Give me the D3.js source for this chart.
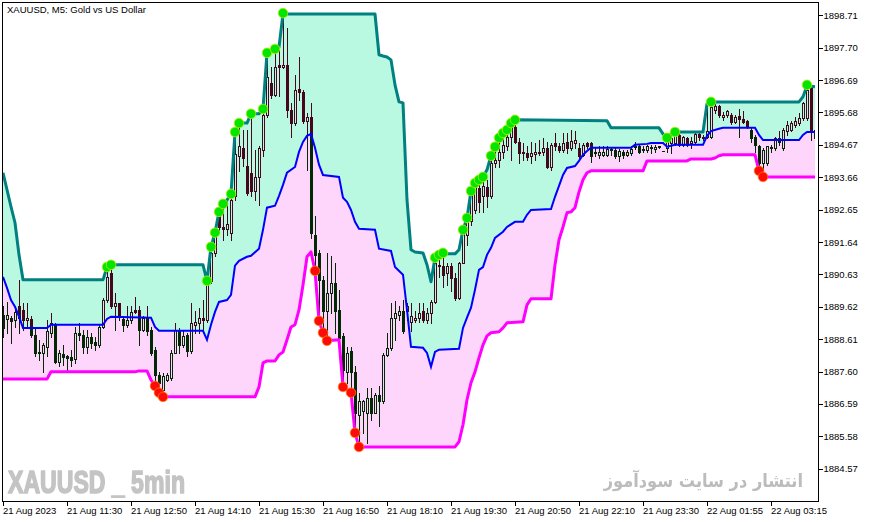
<!DOCTYPE html>
<html><head><meta charset="utf-8">
<script src="https://cdn.jsdelivr.net/npm/d3@7"></script>
<style>html,body{margin:0;padding:0;background:#fff;}svg{display:block;}</style>
</head><body>
<svg id="chart" width="871" height="522"></svg>
<script>
// ---------- data ----------
const titleText = "XAUUSD, M5:  Gold vs US Dollar";
const timeTickBars = [0,16,32,48,64,80,96,112,128,144,160,176,192];
const timeLabels = ["21 Aug 2023","21 Aug 11:30","21 Aug 12:50","21 Aug 14:10","21 Aug 15:30","21 Aug 16:50","21 Aug 18:10","21 Aug 19:30","21 Aug 20:50","21 Aug 22:10","21 Aug 23:30","22 Aug 01:55","22 Aug 03:15"];
const priceTicks = [1898.71,1897.70,1896.69,1895.68,1894.67,1893.66,1892.65,1891.64,1890.63,1889.62,1888.61,1887.60,1886.59,1885.58,1884.57];

const open = [1889.37,1889.23,1889.26,1889.21,1889.63,1889.52,1889.21,1889.23,1888.75,1888.17,1888.17,1888.38,1888.80,1889.06,1887.91,1888.15,1888.07,1888.05,1887.99,1888.80,
1888.75,1888.38,1888.69,1888.51,1888.43,1889.00,1889.84,1890.67,1889.63,1889.73,1889.23,1889.06,1889.21,1889.52,1889.52,1888.90,1889.26,1888.90,1888.28,1887.50,
1887.03,1887.35,1887.40,1888.18,1888.90,1888.44,1888.75,1888.23,1889.06,1889.11,1889.27,1889.22,1890.41,1891.29,1892.49,1892.12,1892.04,1891.92,1893.06,1894.31,
1894.57,1894.00,1893.79,1893.22,1893.68,1894.51,1895.60,1896.59,1896.23,1897.16,1897.11,1897.16,1895.76,1895.35,1896.41,1896.33,1895.40,1895.55,1891.87,1891.29,
1890.46,1889.48,1890.05,1890.36,1889.53,1888.70,1887.60,1888.23,1887.60,1886.26,1886.36,1886.31,1886.78,1886.31,1886.88,1886.67,1888.12,1888.33,1889.27,1889.37,
1889.48,1889.48,1889.16,1889.22,1889.27,1889.48,1889.21,1889.42,1889.78,1890.88,1890.90,1890.67,1890.90,1890.51,1889.89,1891.00,1891.86,1892.28,1892.64,1893.32,
1893.06,1893.37,1893.06,1894.10,1894.20,1894.46,1894.62,1894.93,1895.24,1894.77,1894.41,1894.41,1894.32,1894.39,1894.41,1894.46,1894.56,1893.99,1894.72,1894.62,
1894.51,1894.77,1894.57,1894.72,1894.57,1894.36,1894.72,1894.74,1894.41,1894.36,1894.36,1894.36,1894.51,1894.51,1894.31,1894.46,1894.36,1894.41,1894.60,1894.64,
1894.51,1894.51,1894.56,1894.53,1894.60,1894.48,1894.57,1894.72,1894.72,1894.98,1894.67,1894.88,1894.74,1894.77,1895.01,1894.88,1894.93,1894.93,1895.76,1895.89,
1895.53,1895.60,1895.60,1895.37,1895.57,1895.47,1895.40,1895.14,1894.93,1894.64,1894.10,1894.10,1894.57,1894.57,1894.88,1894.57,1895.09,1895.14,1895.29,1895.35,
1895.50,1895.50,1896.44,1895.14];
const high = [1889.63,1889.78,1889.32,1889.63,1890.46,1889.73,1889.73,1889.32,1889.00,1888.59,1888.49,1889.21,1889.42,1889.11,1888.28,1888.43,1888.12,1888.28,1889.00,1889.11,
1888.90,1888.90,1888.80,1888.69,1889.06,1889.89,1890.86,1890.93,1890.04,1889.73,1889.32,1889.63,1889.63,1889.94,1889.63,1889.32,1889.63,1889.00,1888.38,1887.60,
1887.55,1887.55,1888.28,1889.11,1888.96,1888.90,1888.80,1889.74,1889.48,1889.58,1889.84,1890.43,1891.49,1891.93,1892.58,1892.83,1892.95,1893.14,1895.07,1895.35,
1895.14,1895.14,1895.64,1894.51,1894.62,1895.79,1897.54,1897.11,1897.66,1897.63,1898.78,1898.31,1895.97,1896.85,1897.42,1896.38,1895.66,1895.97,1892.44,1891.40,
1890.57,1891.29,1891.19,1890.98,1890.15,1888.80,1888.38,1888.38,1887.76,1886.93,1886.72,1887.09,1887.09,1886.93,1887.14,1888.18,1888.80,1889.74,1889.79,1889.63,
1889.84,1889.74,1889.74,1889.48,1889.74,1889.74,1889.58,1889.84,1891.15,1891.24,1891.30,1890.98,1890.98,1890.67,1891.02,1892.12,1892.49,1893.26,1893.48,1893.58,
1893.67,1893.58,1894.33,1894.62,1894.89,1895.04,1895.14,1895.36,1895.45,1894.88,1894.72,1894.62,1894.77,1894.72,1894.82,1894.88,1894.77,1894.72,1895.03,1894.72,
1895.03,1895.03,1895.14,1895.09,1894.72,1894.72,1894.77,1894.77,1894.56,1894.62,1894.62,1894.62,1894.60,1894.57,1894.53,1894.51,1894.51,1894.62,1894.77,1894.67,
1894.62,1894.67,1894.67,1894.67,1894.64,1894.49,1894.93,1895.03,1895.07,1895.03,1894.95,1894.93,1894.93,1895.03,1895.05,1894.98,1895.97,1896.02,1895.97,1895.92,
1895.68,1895.76,1895.66,1895.60,1895.78,1895.71,1895.45,1895.24,1894.98,1894.67,1894.57,1894.64,1894.67,1894.93,1895.09,1895.19,1895.40,1895.40,1895.55,1895.66,
1896.02,1896.54,1896.49,1895.45];
const low = [1888.69,1888.80,1888.49,1889.00,1888.80,1888.90,1889.00,1888.69,1888.07,1887.97,1887.60,1888.07,1888.69,1887.86,1887.76,1887.81,1887.65,1887.76,1887.86,1888.59,
1888.17,1888.17,1888.33,1888.28,1888.38,1888.95,1889.78,1889.58,1888.90,1889.21,1888.85,1889.00,1889.11,1889.42,1888.43,1888.85,1888.75,1888.12,1887.15,1886.94,
1886.81,1887.29,1887.35,1888.18,1888.18,1888.38,1888.07,1888.18,1888.80,1888.80,1888.90,1889.16,1890.36,1891.19,1891.92,1891.71,1891.87,1891.71,1892.96,1893.84,
1894.00,1893.11,1893.06,1892.96,1892.80,1894.31,1895.55,1896.12,1896.18,1896.18,1897.06,1895.55,1894.93,1895.29,1896.07,1895.35,1893.89,1891.76,1890.74,1889.18,
1888.81,1888.56,1889.43,1888.80,1888.54,1887.12,1887.24,1886.94,1885.69,1885.25,1885.68,1885.37,1886.10,1886.31,1885.89,1886.62,1888.07,1888.28,1888.59,1889.22,
1888.80,1889.22,1888.85,1889.16,1889.16,1889.16,1889.11,1889.11,1889.73,1890.56,1890.25,1890.30,1890.10,1889.84,1889.86,1890.98,1891.55,1892.17,1892.54,1892.59,
1892.59,1892.74,1893.00,1893.99,1893.99,1894.25,1894.51,1894.20,1894.72,1894.10,1894.20,1894.20,1894.10,1894.20,1894.36,1894.36,1893.94,1893.89,1894.51,1894.46,
1894.46,1894.41,1894.51,1894.57,1894.25,1894.31,1894.57,1894.15,1894.31,1894.25,1894.31,1894.31,1894.36,1894.25,1894.18,1894.25,1894.31,1894.36,1894.53,1894.43,
1894.46,1894.46,1894.41,1894.46,1894.57,1894.47,1894.46,1894.41,1894.67,1894.62,1894.62,1894.62,1894.57,1894.74,1894.83,1894.83,1894.88,1894.88,1895.66,1895.55,
1895.45,1895.55,1895.32,1895.35,1894.93,1895.35,1895.19,1894.77,1894.46,1893.86,1893.67,1894.05,1894.46,1894.51,1894.67,1894.51,1894.98,1895.09,1895.24,1895.29,
1895.45,1895.45,1894.83,1894.83];
const close = [1888.95,1889.37,1889.18,1889.47,1889.26,1889.21,1889.26,1888.75,1888.17,1888.22,1888.43,1888.85,1889.11,1887.91,1888.17,1888.05,1888.02,1887.97,1888.80,1888.75,
1888.38,1888.69,1888.49,1888.43,1889.00,1889.84,1890.56,1889.63,1889.73,1889.32,1889.06,1889.21,1889.47,1889.47,1888.90,1889.26,1888.85,1888.18,1887.50,1887.24,
1887.45,1887.50,1888.18,1888.90,1888.44,1888.70,1888.23,1889.11,1889.16,1889.27,1889.20,1890.41,1891.29,1891.87,1892.12,1892.04,1892.20,1892.96,1894.40,1894.62,
1894.26,1893.18,1893.22,1893.68,1894.57,1895.60,1896.80,1896.23,1897.11,1897.11,1897.16,1895.76,1895.35,1896.38,1896.33,1895.40,1895.55,1891.92,1891.24,1890.46,
1889.48,1890.05,1890.36,1889.48,1888.65,1887.66,1888.18,1887.60,1886.31,1886.67,1886.67,1886.78,1886.31,1886.88,1886.67,1888.12,1888.33,1889.27,1889.43,1889.48,
1888.85,1889.63,1889.32,1889.27,1889.43,1889.22,1889.42,1889.78,1890.98,1890.93,1890.62,1890.90,1890.51,1889.89,1891.00,1891.91,1892.28,1893.11,1893.37,1892.90,
1893.39,1893.06,1894.10,1894.20,1894.46,1894.67,1894.93,1895.24,1894.77,1894.41,1894.46,1894.30,1894.43,1894.46,1894.46,1894.56,1893.99,1894.67,1894.62,1894.51,
1894.72,1894.57,1894.80,1894.83,1894.31,1894.67,1894.62,1894.31,1894.46,1894.46,1894.46,1894.53,1894.53,1894.31,1894.48,1894.36,1894.46,1894.53,1894.64,1894.46,
1894.53,1894.62,1894.60,1894.60,1894.62,1894.49,1894.88,1894.88,1894.98,1894.67,1894.93,1894.67,1894.80,1895.01,1894.93,1894.93,1895.09,1895.86,1895.89,1895.60,
1895.60,1895.71,1895.37,1895.55,1895.47,1895.37,1895.24,1894.88,1894.67,1894.10,1894.51,1894.62,1894.60,1894.88,1894.77,1895.14,1895.29,1895.35,1895.40,1895.50,
1895.97,1896.38,1895.09,1894.88];

// channel lines (bar index, price) at their break points
const upperBar = [0,1,2,3,4,5,25,26,27,50,51,52,53,54,55,56,57,58,59,61,62,64,65,66,67,68,69,70,93,94,95,96,97,98,99,100,101,102,103,105,106,107,108,109,110,113,114,115,116,117,118,119,120,121,122,123,124,125,126,127,128,151,152,164,165,166,167,168,175,176,177,199,200,201,203];
const upperVal = [1893.80,1893.27,1892.74,1892.24,1891.24,1890.46,1890.46,1890.86,1890.93,1890.93,1890.43,1891.49,1891.93,1892.58,1892.83,1892.95,1893.14,1895.07,1895.35,1895.35,1895.64,1895.64,1895.79,1897.54,1897.63,1897.66,1897.72,1898.75,1898.75,1897.48,1897.44,1897.41,1897.32,1896.54,1896.01,1895.98,1892.95,1891.40,1891.33,1891.30,1890.93,1890.40,1891.15,1891.24,1891.27,1891.27,1891.40,1892.02,1892.39,1893.23,1893.48,1893.58,1893.67,1893.89,1894.33,1894.61,1894.89,1895.04,1895.14,1895.35,1895.45,1895.42,1895.20,1895.20,1895.01,1894.92,1895.01,1895.07,1895.07,1895.95,1896.01,1896.01,1896.17,1896.51,1896.48];
const midBar = [0,1,2,3,4,5,11,12,25,26,27,37,38,39,50,51,52,53,54,56,57,58,59,61,62,64,65,66,68,69,70,71,73,74,75,76,77,78,79,80,84,85,86,87,88,89,93,94,97,98,100,101,102,105,106,107,108,109,114,115,116,117,118,119,120,121,122,123,125,126,128,130,131,132,137,138,139,140,141,143,144,145,146,147,157,158,161,162,165,166,167,168,175,176,177,179,180,188,189,190,199,200,201,203];
const midVal = [1890.55,1890.21,1889.83,1889.62,1889.31,1888.96,1888.96,1889.06,1889.06,1889.24,1889.31,1889.28,1888.99,1888.87,1888.87,1888.59,1889.06,1889.46,1889.77,1889.83,1889.99,1890.90,1891.05,1891.18,1891.21,1891.43,1892.02,1892.71,1892.77,1893.08,1893.42,1893.80,1893.98,1894.45,1894.76,1894.95,1895.01,1894.58,1894.05,1893.73,1893.67,1893.02,1892.89,1892.64,1892.27,1892.05,1892.02,1891.43,1891.36,1890.86,1890.62,1889.52,1888.37,1888.34,1888.18,1887.75,1888.21,1888.28,1888.31,1888.96,1889.28,1889.59,1890.15,1890.77,1890.86,1891.24,1891.46,1891.77,1891.96,1892.11,1892.27,1892.27,1892.49,1892.64,1892.67,1893.05,1893.39,1893.73,1893.95,1894.01,1894.17,1894.36,1894.48,1894.58,1894.58,1894.67,1894.70,1894.73,1894.73,1894.61,1894.64,1894.67,1894.67,1894.95,1895.10,1895.17,1895.20,1895.20,1894.98,1894.82,1894.82,1894.98,1895.07,1895.07];
const lowerBar = [0,11,12,33,34,36,37,38,39,40,63,64,65,66,68,69,70,71,72,73,74,75,76,77,78,79,80,81,84,85,86,87,88,89,113,114,115,116,117,118,119,120,121,122,124,125,126,130,131,132,137,138,139,140,141,142,143,144,145,146,147,160,161,171,172,177,178,179,180,188,189,190,203];
const lowerVal = [1887.37,1887.37,1887.59,1887.59,1887.62,1887.62,1887.34,1887.15,1886.94,1886.81,1886.81,1887.12,1887.87,1887.93,1887.93,1888.12,1888.21,1888.59,1888.99,1889.06,1889.52,1890.30,1891.18,1891.33,1890.74,1889.18,1888.81,1888.56,1888.59,1887.12,1887.03,1886.94,1885.69,1885.25,1885.25,1885.41,1885.94,1886.72,1887.25,1887.59,1888.03,1888.43,1888.71,1888.81,1888.84,1888.96,1889.12,1889.15,1889.68,1889.87,1889.87,1890.93,1891.71,1892.11,1892.55,1892.58,1892.71,1893.20,1893.58,1893.80,1893.86,1893.86,1894.17,1894.17,1894.23,1894.23,1894.26,1894.33,1894.36,1894.36,1893.86,1893.67,1893.67];

// breakout markers
const upDotBar = [26,27,51,52,53,54,55,57,58,59,62,65,66,68,70,108,109,110,115,116,117,118,119,120,122,123,124,125,126,127,128,166,168,177,201];
const upDotVal = [1890.86,1890.93,1890.43,1891.49,1891.93,1892.58,1892.83,1893.14,1895.07,1895.35,1895.64,1895.79,1897.54,1897.66,1898.78,1891.15,1891.24,1891.30,1892.02,1892.39,1893.23,1893.48,1893.58,1893.67,1894.33,1894.61,1894.89,1895.04,1895.14,1895.35,1895.45,1894.89,1895.07,1896.01,1896.54];
const downDotBar = [38,39,40,78,79,80,81,85,87,88,89,189,190];
const downDotVal = [1887.15,1886.94,1886.81,1890.74,1889.18,1888.81,1888.56,1887.12,1886.94,1885.69,1885.25,1893.86,1893.67];

// ---------- drawing ----------
const svg = d3.select("#chart");
const PL = 2, PR = 818, PT = 2, PB = 501;
const x = d3.scaleLinear().domain([0, 203]).range([3, 815]);
const y = d3.scaleLinear().domain([1884.57, 1898.71]).range([468.7, 15.3]);

svg.append("rect").attr("width", 871).attr("height", 522).attr("fill", "#fff");
svg.append("defs").append("clipPath").attr("id", "plot")
  .append("rect").attr("x", PL + 1).attr("y", PT + 1).attr("width", PR - PL - 1).attr("height", PB - PT - 1);

const plot = svg.append("g").attr("clip-path", "url(#plot)");

// watermarks
plot.append("text").attr("x", 8).attr("y", 492.5)
  .attr("font-family", "'Liberation Sans Narrow', 'Liberation Sans', sans-serif")
  .attr("font-weight", "bold").attr("font-size", 31).attr("fill", "#c4c4c4")
  .attr("stroke", "#c4c4c4").attr("stroke-width", 1.6).attr("stroke-linejoin", "round")
  .attr("textLength", 177).attr("lengthAdjust", "spacingAndGlyphs")
  .text("XAUUSD _ 5min");
plot.append("text").attr("x", 803).attr("y", 487)
  .attr("text-anchor", "end")
  .attr("font-family", "'DejaVu Sans Condensed', 'DejaVu Sans', sans-serif")
  .attr("font-weight", "bold").attr("font-size", 18).attr("fill", "#bcbcbc")
  .text("انتشار در سایت سودآموز");

const pts = (bars, vals) => bars.map((b, k) => [x(b), y(vals[k])]);
const upperPts = pts(upperBar, upperVal);
const midPts = pts(midBar, midVal);
const lowerPts = pts(lowerBar, lowerVal);
const line = d3.line();

plot.append("path").attr("d", line(upperPts.concat(midPts.slice().reverse())) + "Z").attr("fill", "#b9f9e1");
plot.append("path").attr("d", line(midPts.concat(lowerPts.slice().reverse())) + "Z").attr("fill", "#ffd6fb");

// candles (inverted against background, like the terminal)
const cg = plot.append("g").style("mix-blend-mode", "difference").attr("shape-rendering", "crispEdges");
const idx = d3.range(open.length);
idx.forEach(i => {
  const cx = Math.round(x(i));
  const o = open[i], c = close[i];
  const top = Math.round(y(Math.max(o, c)));
  let bot = Math.round(y(Math.min(o, c)));
  const yh = Math.round(y(high[i])), yl = Math.round(y(low[i]));
  const bull = c > o;
  if (yh < top) cg.append("rect").attr("x", cx).attr("y", yh).attr("width", 1).attr("height", top - yh).attr("fill", "#fff");
  if (yl > bot) cg.append("rect").attr("x", cx).attr("y", bot + 1).attr("width", 1).attr("height", yl - bot).attr("fill", "#fff");
  if (bull && bot - top >= 2) {
    cg.append("rect").attr("x", cx - 1).attr("y", top).attr("width", 3).attr("height", 1).attr("fill", "#fff");
    cg.append("rect").attr("x", cx - 1).attr("y", bot).attr("width", 3).attr("height", 1).attr("fill", "#fff");
    cg.append("rect").attr("x", cx - 1).attr("y", top).attr("width", 1).attr("height", bot - top + 1).attr("fill", "#fff");
    cg.append("rect").attr("x", cx + 1).attr("y", top).attr("width", 1).attr("height", bot - top + 1).attr("fill", "#fff");
  } else {
    cg.append("rect").attr("x", cx - 1).attr("y", top).attr("width", 3).attr("height", Math.max(1, bot - top + 1)).attr("fill", "#fff");
  }
});

// channel lines
plot.append("path").attr("d", line(midPts)).attr("fill", "none").attr("stroke", "#0000ff").attr("stroke-width", 2);
plot.append("path").attr("d", line(upperPts)).attr("fill", "none").attr("stroke", "#008080").attr("stroke-width", 3).attr("stroke-linejoin", "round");
plot.append("path").attr("d", line(lowerPts)).attr("fill", "none").attr("stroke", "#ff00ff").attr("stroke-width", 3).attr("stroke-linejoin", "round");

// dots
plot.selectAll(".up").data(upDotBar).join("circle")
  .attr("cx", d => x(d)).attr("cy", (d, k) => y(upDotVal[k])).attr("r", 4.8)
  .attr("fill", "#00e600").attr("stroke", "#b8ee00").attr("stroke-width", 0.8);
plot.selectAll(".dn").data(downDotBar).join("circle")
  .attr("cx", d => x(d)).attr("cy", (d, k) => y(downDotVal[k])).attr("r", 4.8)
  .attr("fill", "#ff0a0a").attr("stroke", "#ff7a00").attr("stroke-width", 0.8);

// frame
svg.append("rect").attr("x", PL + 0.5).attr("y", PT + 0.5).attr("width", PR - PL).attr("height", PB - PT)
  .attr("fill", "none").attr("stroke", "#000").attr("stroke-width", 1).attr("shape-rendering", "crispEdges");

// axes
const fontAxis = "'Liberation Sans', Arial, sans-serif";
const xAxis = d3.axisBottom(x).tickValues(timeTickBars).tickFormat((d, k) => timeLabels[k]).tickSize(4).tickPadding(2);
const gx = svg.append("g").attr("transform", `translate(-0.5,${PB + 0.5})`).call(xAxis);
gx.select(".domain").remove();
gx.selectAll("line").attr("shape-rendering", "crispEdges").attr("stroke", "#000");
gx.selectAll("text").attr("text-anchor", "start").attr("font-family", fontAxis).attr("font-size", 9.5).attr("fill", "#000").attr("dx", 0).attr("dy", "0.75em").attr("y", 5);

const yAxis = d3.axisRight(y).tickValues(priceTicks).tickFormat(d3.format(".2f")).tickSize(4).tickPadding(1);
const gy = svg.append("g").attr("transform", `translate(${PR + 0.5},0)`).call(yAxis);
gy.select(".domain").remove();
gy.selectAll("line").attr("shape-rendering", "crispEdges").attr("stroke", "#000");
gy.selectAll("text").attr("font-family", fontAxis).attr("font-size", 9.5).attr("fill", "#000");

// title
svg.append("text").attr("x", 7).attr("y", 13).attr("font-family", fontAxis).attr("font-size", 9.5).attr("fill", "#000").text(titleText);
</script>
</body></html>
